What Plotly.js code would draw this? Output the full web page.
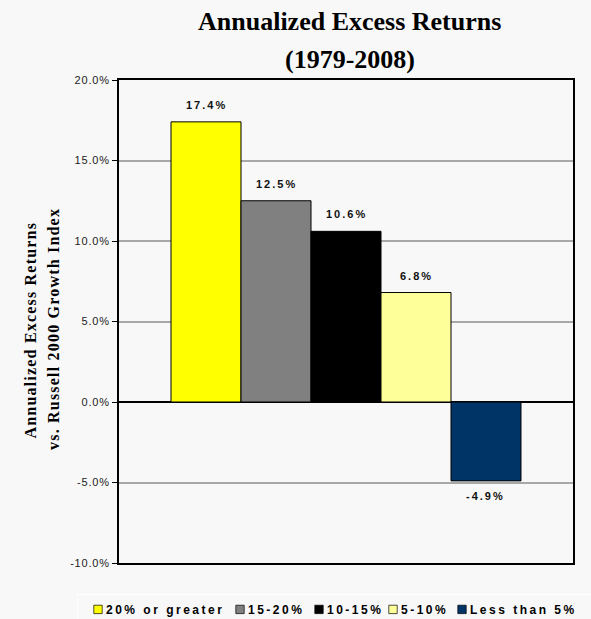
<!DOCTYPE html>
<html>
<head>
<meta charset="utf-8">
<script src="https://cdn.plot.ly/plotly-3.0.1.min.js"></script>
<style>
  html, body { margin: 0; padding: 0; background: #f8f8f8; }
  #chart { width: 591px; height: 619px; }
  .legendtext { letter-spacing: 2.5px; transform: translateX(-12px); }
  .legendpoints path { transform-box: fill-box; transform-origin: center; transform: translate(20px, 0px) scale(0.7); }
  .ytick text { letter-spacing: 0.8px; }
</style>
</head>
<body>
<div id="chart"></div>
<script>
const categories = ['20% or greater', '15-20%', '10-15%', '5-10%', 'Less than 5%'];
const values = [17.4, 12.5, 10.6, 6.8, -4.9];
const colors = ['#FFFF00', '#808080', '#000000', '#FFFF99', '#003366'];
const legendWidths = [97, 34, 29, 24, 110];
const tickValues = [-10, -5, 0, 5, 10, 15, 20];
const tickLabels = ['-10.0%', '-5.0%', '0.0%', '5.0%', '10.0%', '15.0%', '20.0%'];
const titleLines = ['Annualized Excess Returns', '(1979-2008)'];
const yTitleLines = ['Annualized Excess Returns', 'vs. Russell 2000 Growth Index'];

const traces = categories.map((c, i) => ({
  type: 'bar',
  name: c,
  x: [c],
  y: [values[i]],
  width: 1,
  legendwidth: legendWidths[i],
  marker: { color: colors[i], line: { color: '#000000', width: 1 } },
  hoverinfo: 'none'
}));

const labelAnnotations = categories.map((c, i) => ({
  x: c, y: values[i], xref: 'x', yref: 'y',
  text: '<span style="letter-spacing:2px">' + values[i].toFixed(1) + '%</span>',
  showarrow: false,
  yshift: values[i] >= 0 ? 17 : -15,
  yanchor: 'middle', xanchor: 'center',
  font: { family: 'Arial, Liberation Sans', size: 11, color: '#111111', weight: 'bold' }
}));

const titleFont = { family: 'Times New Roman, Liberation Serif', size: 26, color: '#000000', weight: 'bold' };
const yTitleFont = { family: 'Times New Roman, Liberation Serif', size: 16, color: '#000000', weight: 'bold' };

const annotations = labelAnnotations.concat([
  { xref: 'paper', yref: 'paper', x: 0.5088, y: 1.1216, text: '<b>' + titleLines[0] + '</b>',
    showarrow: false, xanchor: 'center', yanchor: 'middle', font: titleFont },
  { xref: 'paper', yref: 'paper', x: 0.5088, y: 1.0431, text: '<b>' + titleLines[1] + '</b>',
    showarrow: false, xanchor: 'center', yanchor: 'middle', font: titleFont },
  { xref: 'paper', yref: 'paper', x: -0.197, y: 0.4824,
    text: '<span style="letter-spacing:1.2px"><b>' + yTitleLines[0] + '</b></span>',
    showarrow: false, xanchor: 'center', yanchor: 'middle', textangle: -90, font: yTitleFont },
  { xref: 'paper', yref: 'paper', x: -0.1443, y: 0.4855,
    text: '<span style="letter-spacing:1.2px"><b>' + yTitleLines[1] + '</b></span>',
    showarrow: false, xanchor: 'center', yanchor: 'middle', textangle: -90, font: yTitleFont }
]);

const layout = {
  width: 591, height: 619,
  paper_bgcolor: '#f8f8f8', plot_bgcolor: '#f8f8f8',
  margin: { l: 119, r: 18, t: 80, b: 56, autoexpand: false },
  barmode: 'overlay',
  bargap: 0,
  showlegend: true,
  legend: {
    orientation: 'h', x: -0.0925, xanchor: 'left', y: -0.064, yanchor: 'top',
    bgcolor: '#f8f8f8', bordercolor: '#ffffff', borderwidth: 1,
    font: { family: 'Arial, Liberation Sans', size: 12, color: '#000000', weight: 'bold' },
    traceorder: 'normal'
  },
  xaxis: {
    type: 'category', range: [-1.243, 5.243],
    showticklabels: false, ticks: '', showgrid: false, zeroline: false,
    showline: true, mirror: true, linecolor: '#000000', linewidth: 2,
    fixedrange: true
  },
  yaxis: {
    range: [-10, 20], tickvals: tickValues, ticktext: tickLabels,
    ticks: 'outside', ticklen: 5, tickcolor: '#000000', tickwidth: 1,
    tickfont: { family: 'Arial, Liberation Sans', size: 11, color: '#222222' },
    showgrid: true, gridcolor: '#a8a8a8', gridwidth: 2,
    zeroline: true, zerolinecolor: '#000000', zerolinewidth: 2,
    showline: true, mirror: true, linecolor: '#000000', linewidth: 2,
    fixedrange: true
  },
  annotations: annotations
};

Plotly.newPlot('chart', traces, layout, { displayModeBar: false, staticPlot: true });
</script>
</body>
</html>
